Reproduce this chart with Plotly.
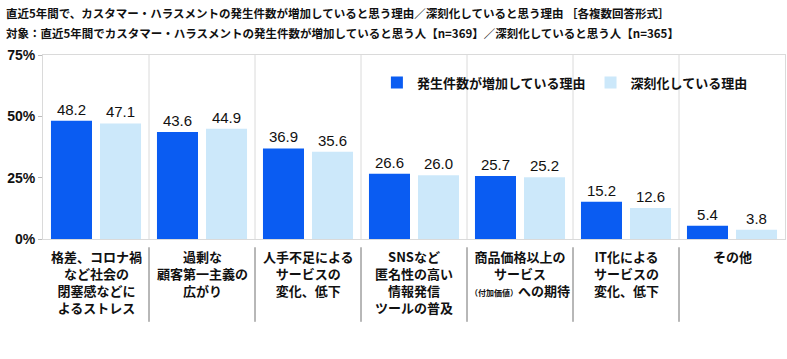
import plotly.graph_objects as go

categories = [
    "格差、コロナ禍<br>など社会の<br>閉塞感などに<br>よるストレス",
    "過剰な<br>顧客第一主義の<br>広がり",
    "人手不足による<br>サービスの<br>変化、低下",
    "SNSなど<br>匿名性の高い<br>情報発信<br>ツールの普及",
    "商品価格以上の<br>サービス<br><span style='font-size:8px'>（付加価値）</span>への期待",
    "IT化による<br>サービスの<br>変化、低下",
    "その他",
]
series_names = ["発生件数が増加している理由", "深刻化している理由"]
increase_values = [48.2, 43.6, 36.9, 26.6, 25.7, 15.2, 5.4]
serious_values = [47.1, 44.9, 35.6, 26.0, 25.2, 12.6, 3.8]
tick_vals = [0, 25, 50, 75]
tick_text = ["0%", "25%", "50%", "75%"]

title_line1 = "直近5年間で、カスタマー・ハラスメントの発生件数が増加していると思う理由／深刻化していると思う理由 ［各複数回答形式］"
title_line2 = "対象：直近5年間でカスタマー・ハラスメントの発生件数が増加していると思う人【n=369】／深刻化していると思う人【n=365】"

colors = ["#0A5CF2", "#CCE8FA"]
cjk = "Noto Sans CJK JP"
num_font = "Liberation Sans"

x_idx = list(range(len(categories)))

fig = go.Figure()
for name, vals, col in zip(series_names, [increase_values, serious_values], colors):
    fig.add_trace(go.Bar(
        x=x_idx, y=vals, name=name, marker=dict(color=col, line=dict(width=0)),
        text=[f"{v:.1f}" for v in vals], textposition="outside",
        textfont=dict(family=num_font, size=15, color="#111"),
        cliponaxis=False,
    ))

shapes = []
for i in range(len(categories) - 1):
    xb = i + 0.5
    shapes.append(dict(type="line", xref="x", yref="y", x0=xb, x1=xb, y0=0, y1=75,
                       line=dict(color="#DADADA", width=1), layer="below"))
    shapes.append(dict(type="line", xref="x", yref="paper", x0=xb, x1=xb, y0=-0.045, y1=-0.45,
                       line=dict(color="#707070", width=1)))

annotations = [
    dict(text="<b>" + title_line1 + "</b>", xref="paper", yref="paper", x=-0.052, y=1.228,
         xanchor="left", yanchor="middle", showarrow=False,
         font=dict(family=cjk, size=11.5, color="#111")),
    dict(text="<b>" + title_line2 + "</b>", xref="paper", yref="paper", x=-0.052, y=1.12,
         xanchor="left", yanchor="middle", showarrow=False,
         font=dict(family=cjk, size=11.5, color="#111")),
]
for i, lab in enumerate(categories):
    annotations.append(dict(
        text="<b>" + lab + "</b>", xref="x", yref="paper", x=i, y=-0.03,
        xanchor="center", yanchor="top", align="center", showarrow=False,
        font=dict(family=cjk, size=13, color="#111"),
    ))

fig.update_layout(
    width=787, height=359,
    margin=dict(l=43, r=2, t=55, b=120, autoexpand=False),
    paper_bgcolor="white", plot_bgcolor="white",
    barmode="group", bargap=0.075, bargroupgap=0.163,
    showlegend=True,
    legend=dict(orientation="h", x=0.45, y=0.85, xanchor="left", yanchor="middle",
                font=dict(family=cjk, size=13, color="#111", weight="bold"),
                itemwidth=30, tracegroupgap=0, bgcolor="rgba(0,0,0,0)"),
    shapes=shapes,
    annotations=annotations,
)
fig.update_xaxes(
    tickmode="array", tickvals=x_idx, ticktext=[""] * len(x_idx), range=[-0.5, len(categories) - 0.5],
    showline=True, linecolor="#DADADA", linewidth=1, mirror=True, ticks="",
    showgrid=False, zeroline=False, fixedrange=True, automargin=False,
)
fig.update_yaxes(
    range=[0, 75], tickmode="array", tickvals=tick_vals, ticktext=tick_text,
    showline=True, linecolor="#DADADA", linewidth=1, mirror=True,
    ticks="outside", ticklen=4, tickcolor="#BBBBBB",
    tickfont=dict(family=num_font, size=14, color="#111", weight="bold"),
    showgrid=False, zeroline=False, fixedrange=True, automargin=False,
)

fig.write_html("out.html", config={"displayModeBar": False},
               post_script="document.body.style.margin='0';")
